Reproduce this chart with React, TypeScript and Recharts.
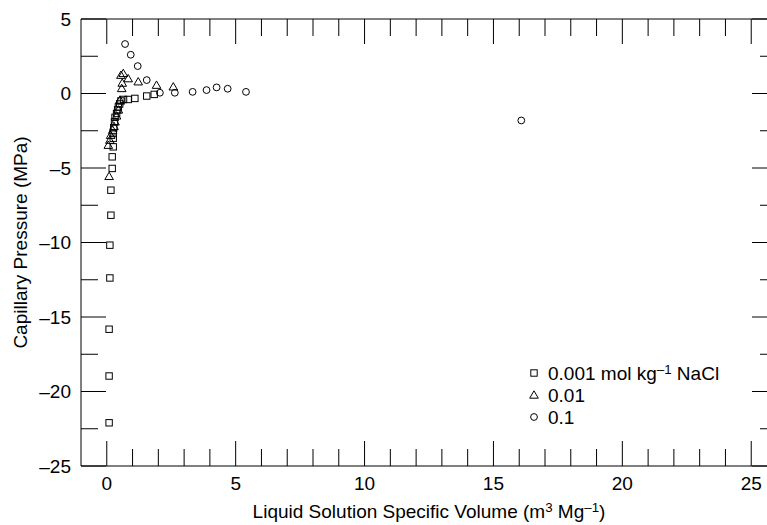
import React from "react"
import { ScatterChart, Scatter, XAxis, YAxis, Legend, ReferenceLine } from "recharts"

// 0.001 mol/kg NaCl (squares)
const SQ_X = [0.09, 0.09, 0.09, 0.12, 0.12, 0.16, 0.16, 0.21, 0.21, 0.25, 0.25, 0.25, 0.27, 0.3, 0.32, 0.38, 0.42, 0.45, 0.5, 0.55, 0.65, 0.83, 1.09, 1.55, 1.84]
const SQ_Y = [-22.1, -18.96, -15.82, -12.38, -10.18, -8.17, -6.49, -5.03, -4.25, -3.58, -3.0, -2.68, -2.3, -1.9, -1.6, -1.34, -1.1, -0.9, -0.7, -0.5, -0.4, -0.4, -0.33, -0.17, -0.06]

// 0.01 (triangles)
const TR_X = [0.09, 0.06, 0.12, 0.15, 0.23, 0.28, 0.32, 0.38, 0.45, 0.51, 0.58, 0.6, 0.55, 0.64, 0.83, 1.22, 1.93, 2.58]
const TR_Y = [-5.56, -3.47, -3.13, -2.8, -2.46, -2.2, -1.9, -1.5, -1.1, -0.44, 0.34, 0.7, 1.23, 1.35, 1.0, 0.79, 0.56, 0.45]

// 0.1 (circles)
const CI_X = [0.71, 0.93, 1.2, 1.55, 2.06, 2.64, 3.33, 3.87, 4.26, 4.69, 5.4, 16.08]
const CI_Y = [3.32, 2.6, 1.84, 0.9, 0.05, 0.05, 0.11, 0.23, 0.41, 0.32, 0.11, -1.81]

const X_DOMAIN = [-1, 26]
const Y_DOMAIN = [-25, 5]
const X_MAJOR = [0, 5, 10, 15, 20, 25]
const X_MINOR = [1, 2, 3, 4, 6, 7, 8, 9, 11, 12, 13, 14, 16, 17, 18, 19, 21, 22, 23, 24]
const Y_MAJOR = [-25, -20, -15, -10, -5, 0, 5]
const Y_MINOR = [-22.5, -17.5, -12.5, -7.5, -2.5, 2.5]

const SERIES_NAMES = ["0.001 mol kg", "0.01", "0.1"]

const toPoints = (xs: number[], ys: number[]) => xs.map((x, i) => ({ x, y: ys[i] }))

const FONT = "'Liberation Sans', Arial, Helvetica, sans-serif"
const FS = 19
const MAJOR_LEN = 25
const MINOR_LEN = 17

// plot box (px)
const W = 780
const H = 525
const M = { top: 19, right: 3, bottom: 0, left: 0 }
const X_AXIS_H = 59
const Y_AXIS_W = 81
const PLOT_TOP = M.top
const PLOT_RIGHT = W - M.right

const fmt = (v: number) => (v < 0 ? `\u2013${Math.abs(v)}` : `${v}`)

const Square = ({ cx, cy }: any) => (
  <rect x={cx - 3.2} y={cy - 3.2} width={6.4} height={6.4} fill="none" stroke="#000" strokeWidth={1} />
)
const Triangle = ({ cx, cy }: any) => (
  <path d={`M${cx},${cy - 4.2} L${cx + 4.3},${cy + 3.2} L${cx - 4.3},${cy + 3.2} Z`} fill="none" stroke="#000" strokeWidth={1} />
)
const Circle = ({ cx, cy }: any) => (
  <circle cx={cx} cy={cy} r={3.4} fill="none" stroke="#000" strokeWidth={1} />
)

// bottom ticks (and mirrored top ticks), all pointing inward
const XTick = ({ x, y, payload }: any) => {
  const major = X_MAJOR.includes(payload.value)
  const len = major ? MAJOR_LEN : MINOR_LEN
  return (
    <g>
      <line x1={x} x2={x} y1={y} y2={y - len} stroke="#000" />
      <line x1={x} x2={x} y1={PLOT_TOP} y2={PLOT_TOP + len} stroke="#000" />
      {major && (
        <text x={x} y={y + 24} textAnchor="middle" fontSize={FS} fontFamily={FONT} fill="#000">
          {payload.value}
        </text>
      )}
    </g>
  )
}

// left ticks (and mirrored right ticks)
const YTick = ({ x, y, payload }: any) => {
  const major = Y_MAJOR.includes(payload.value)
  const len = major ? MAJOR_LEN : MINOR_LEN
  return (
    <g>
      <line x1={x} x2={x + len} y1={y} y2={y} stroke="#000" />
      <line x1={PLOT_RIGHT} x2={PLOT_RIGHT - len} y1={y} y2={y} stroke="#000" />
      {major && (
        <text x={x - 10} y={y} dy="0.36em" textAnchor="end" fontSize={FS} fontFamily={FONT} fill="#000">
          {fmt(payload.value)}
        </text>
      )}
    </g>
  )
}

const XTitle = ({ viewBox }: any) => (
  <text x={viewBox.x + viewBox.width / 2} y={518} textAnchor="middle" fontSize={FS} fontFamily={FONT} fill="#000">
    Liquid Solution Specific Volume (m
    <tspan fontSize={FS * 0.7} dy={-6}>3</tspan>
    <tspan dy={6}> Mg</tspan>
    <tspan fontSize={FS * 0.7} dy={-6}>{"\u20131"}</tspan>
    <tspan dy={6}>)</tspan>
  </text>
)

const YTitle = ({ viewBox }: any) => {
  const cx = 20
  const cy = viewBox.y + viewBox.height / 2
  return (
    <text x={cx} y={cy} dy="0.36em" transform={`rotate(-90, ${cx}, ${cy})`} textAnchor="middle" fontSize={FS} fontFamily={FONT} fill="#000">
      Capillary Pressure (MPa)
    </text>
  )
}

const LegendBox = () => {
  const rows = [
    { shape: "sq", label: SERIES_NAMES[0], sup: true },
    { shape: "tr", label: SERIES_NAMES[1] },
    { shape: "ci", label: SERIES_NAMES[2] },
  ]
  return (
    <svg width={230} height={70} style={{ overflow: "visible" }}>
      {rows.map((r, i) => {
        const cy = 10 + i * 22
        return (
          <g key={i}>
            {r.shape === "sq" && <Square cx={8} cy={cy} />}
            {r.shape === "tr" && <Triangle cx={8} cy={cy} />}
            {r.shape === "ci" && <Circle cx={8} cy={cy} />}
            <text x={22} y={cy} dy="0.36em" fontSize={FS} fontFamily={FONT} fill="#000">
              {r.label}
              {r.sup && (
                <>
                  <tspan fontSize={FS * 0.7} dy={-6}>{"\u20131"}</tspan>
                  <tspan dy={6}> NaCl</tspan>
                </>
              )}
            </text>
          </g>
        )
      })}
    </svg>
  )
}

export default function App() {
  return (
    <div style={{ position: "absolute", left: 0, top: 0, width: 767, height: H, overflow: "hidden", background: "#fff" }}>
      <ScatterChart width={W} height={H} margin={M}>
        <XAxis
          xAxisId="b"
          type="number"
          dataKey="x"
          domain={X_DOMAIN}
          allowDataOverflow
          ticks={[...X_MAJOR, ...X_MINOR]}
          interval={0}
          tickSize={0}
          tickMargin={0}
          tickLine={false}
          tick={<XTick />}
          axisLine={{ stroke: "#000" }}
          height={X_AXIS_H}
          label={<XTitle />}
        />
        <YAxis
          yAxisId="l"
          type="number"
          dataKey="y"
          domain={Y_DOMAIN}
          allowDataOverflow
          ticks={[...Y_MAJOR, ...Y_MINOR]}
          interval={0}
          tickSize={0}
          tickMargin={0}
          tickLine={false}
          tick={<YTick />}
          axisLine={{ stroke: "#000" }}
          width={Y_AXIS_W}
          label={<YTitle />}
        />
        {/* frame: top and right borders */}
        <ReferenceLine xAxisId="b" yAxisId="l" y={Y_DOMAIN[1]} stroke="#000" />
        <ReferenceLine xAxisId="b" yAxisId="l" x={X_DOMAIN[1]} stroke="#000" />
        <Legend
          content={<LegendBox />}
          layout="horizontal"
          align="center"
          verticalAlign="middle"
          wrapperStyle={{ position: "absolute", left: 526, top: 363, width: 240 }}
        />
        <Scatter name={SERIES_NAMES[0]} xAxisId="b" yAxisId="l" data={toPoints(SQ_X, SQ_Y)} shape={<Square />} isAnimationActive={false} />
        <Scatter name={SERIES_NAMES[1]} xAxisId="b" yAxisId="l" data={toPoints(TR_X, TR_Y)} shape={<Triangle />} isAnimationActive={false} />
        <Scatter name={SERIES_NAMES[2]} xAxisId="b" yAxisId="l" data={toPoints(CI_X, CI_Y)} shape={<Circle />} isAnimationActive={false} />
      </ScatterChart>
    </div>
  )
}
